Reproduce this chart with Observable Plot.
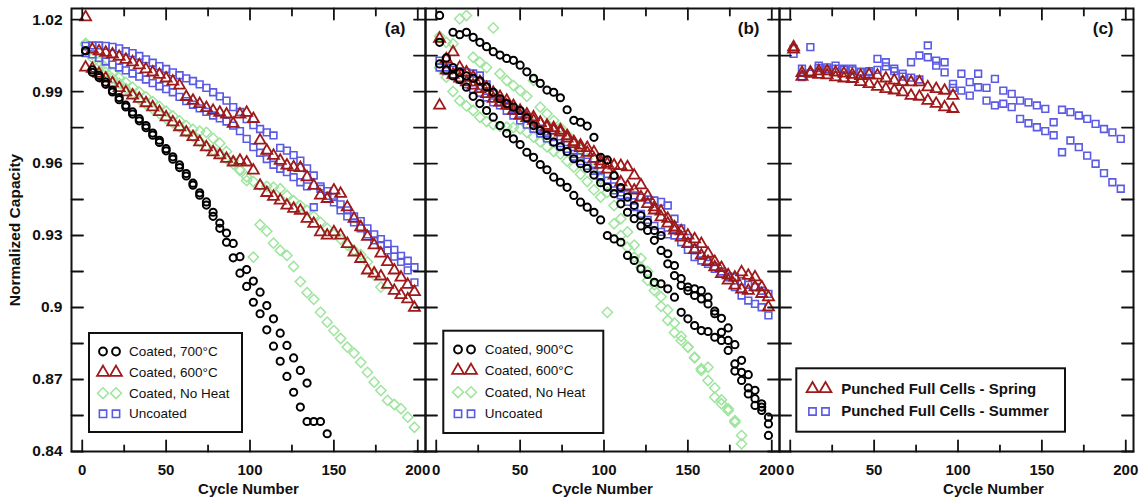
<!DOCTYPE html>
<html>
<head>
<meta charset="utf-8">
<script src="https://cdn.jsdelivr.net/npm/d3@7"></script>
<script src="https://cdn.jsdelivr.net/npm/@observablehq/plot@0.6"></script>
<style>
  html, body { margin: 0; padding: 0; background: #fff; }
  #chart svg { display: block; }
</style>
</head>
<body>
<div id="chart"></div>
<script>
// ---- Cycle numbers -------------------------------------------------------
const cyclesAB = [2, 6, 10, 14, 18, 22, 26, 30, 34, 38, 42, 46, 50, 54, 58, 62, 66, 70, 74, 78,
  82, 86, 90, 94, 98, 102, 106, 110, 114, 118, 122, 126, 130, 134, 138, 142, 146, 150, 154, 158,
  162, 166, 170, 174, 178, 182, 186, 190, 194, 198];
const cyclesC = [2, 7, 12, 17, 22, 27, 32, 37, 42, 47, 52, 57, 62, 67, 72, 77, 82, 87, 92, 97,
  102, 107, 112, 117, 122, 127, 132, 137, 142, 147, 152, 157, 162, 167, 172, 177, 182, 187, 192, 197];

// ---- Panel (a) -------------------------------------------------------------
const a700C_1 = [1.007, 0.999, 0.9967, 0.9939, 0.9905, 0.9875, 0.9843, 0.9815, 0.9787, 0.9758,
  0.9727, 0.9697, 0.9662, 0.9628, 0.9594, 0.9558, 0.9518, 0.9478, 0.944, 0.9397,
  0.9352, 0.931, 0.9267, 0.9212, 0.9158, 0.911, 0.9064, 0.9008, 0.8953, 0.8893,
  0.8842, 0.879, 0.8738, 0.8685];
const a700C_2 = [1.007, 0.998, 0.9958, 0.993, 0.9898, 0.9866, 0.9836, 0.9806, 0.9778, 0.9749,
  0.9718, 0.9688, 0.9653, 0.9618, 0.9583, 0.9548, 0.951, 0.9468, 0.9427, 0.938,
  0.933, 0.9272, 0.9207, 0.9143, 0.9088, 0.9022, 0.8974, 0.8907, 0.8839, 0.8776,
  0.8713, 0.8647, 0.8585, 0.8525, 0.8525, 0.8525, 0.8474];
const a600C_1 = [1.021, 1.0075, 1.0068, 1.0062, 1.0055, 1.0045, 1.0033, 1.0022, 1.001, 0.9993,
  0.998, 0.997, 0.9955, 0.9942, 0.9925, 0.9878, 0.9862, 0.9848, 0.9832, 0.982,
  0.9812, 0.9805, 0.9766, 0.9805, 0.9812, 0.9786, 0.9696, 0.9654, 0.9633, 0.9612,
  0.9592, 0.9585, 0.9582, 0.9543, 0.9508, 0.9467, 0.9453, 0.9488, 0.9474, 0.9418,
  0.937, 0.9335, 0.9295, 0.926, 0.9225, 0.919, 0.9155, 0.9125, 0.9095, 0.9065];
const a600C_2 = [1.0, 0.9995, 0.9974, 0.9955, 0.9935, 0.9915, 0.9897, 0.9884, 0.987, 0.9852,
  0.9835, 0.9815, 0.9793, 0.9772, 0.9752, 0.973, 0.9711, 0.9689, 0.9668, 0.9647,
  0.9635, 0.962, 0.9605, 0.9612, 0.9605, 0.9571, 0.9508, 0.9478, 0.9462, 0.9446,
  0.9425, 0.9412, 0.9404, 0.937, 0.9349, 0.9314, 0.93, 0.9314, 0.93, 0.9265,
  0.923, 0.9203, 0.9155, 0.9142, 0.913, 0.9095, 0.907, 0.9052, 0.9035, 0.8999];
const aNoHeat_1 = [1.0101, 1.004, 1.0005, 0.998, 0.9955, 0.9935, 0.9913, 0.989, 0.9868, 0.9848,
  0.9828, 0.9808, 0.9788, 0.977, 0.9752, 0.9733, 0.9712, 0.9692, 0.9672, 0.9655,
  0.964, 0.962, 0.9598, 0.9575, 0.9545, 0.9525, 0.951, 0.9505, 0.9501, 0.9495,
  0.9467, 0.9445, 0.9425, 0.9405, 0.938, 0.9355, 0.933, 0.9305, 0.9285, 0.926,
  0.9238, 0.922, 0.919, 0.9135, 0.9085];
const aNoHeat_2 = [1.0095, 1.0055, 1.0025, 1.0, 0.9978, 0.9958, 0.9938, 0.9918, 0.9898, 0.9878,
  0.9858, 0.9838, 0.9818, 0.9798, 0.9778, 0.9758, 0.9742, 0.9735, 0.973, 0.9705,
  0.9685, 0.965, 0.9612, 0.9571, 0.9529, 0.921, 0.9345, 0.9318, 0.9268, 0.9238,
  0.9217, 0.9171, 0.9108, 0.9062, 0.9034, 0.898, 0.8939, 0.8904, 0.8871, 0.8835,
  0.881, 0.8772, 0.873, 0.8689, 0.8654, 0.8613, 0.8596, 0.8578, 0.8543, 0.8501];
const aUncoated_1 = [1.009, 1.0092, 1.0092, 1.009, 1.0086, 1.008, 1.0068, 1.006, 1.0048, 1.0034,
  1.002, 1.0006, 0.9994, 0.998, 0.9968, 0.9955, 0.9944, 0.993, 0.9915, 0.9897,
  0.988, 0.9862, 0.9835, 0.9815, 0.9785, 0.976, 0.9744, 0.973, 0.9717, 0.9665,
  0.9654, 0.9635, 0.9612, 0.958, 0.955, 0.9505, 0.9485, 0.946, 0.943, 0.9405,
  0.938, 0.936, 0.933, 0.9305, 0.9285, 0.9265, 0.924, 0.9215, 0.9195, 0.9168];
const aUncoated_2 = [1.006, 1.0055, 1.004, 1.0025, 1.0012, 1.0, 0.9988, 0.9975, 0.9962, 0.995,
  0.9935, 0.9922, 0.991, 0.9897, 0.9878, 0.986, 0.9845, 0.983, 0.9815, 0.98,
  0.9788, 0.9775, 0.9758, 0.9735, 0.9703, 0.9668, 0.9645, 0.9619, 0.9595, 0.9578,
  0.9564, 0.9543, 0.9522, 0.9505, 0.9418, 0.9495, 0.9465, 0.9438, 0.9405, 0.938,
  0.9355, 0.933, 0.9305, 0.928, 0.926, 0.9238, 0.9212, 0.919, 0.9155, 0.9105];

// ---- Panel (b) -------------------------------------------------------------
const b900C_1 = [1.0217, null, 1.0147, 1.0137, 1.0147, 1.0126, 1.0105, 1.0087, 1.0066, 1.0052,
  1.0038, 1.003, 1.001, 0.9982, 0.9955, 0.9934, 0.9906, 0.9897, 0.9874, 0.9824,
  0.978, 0.9772, 0.9756, 0.9709, 0.9626, 0.9615, 0.955, 0.95, 0.946, 0.9425,
  0.9383, 0.9355, 0.9321, 0.93, 0.9224, 0.9175, 0.912, 0.9085, 0.9078, 0.907,
  0.9043, 0.8974, 0.8897, 0.8863, 0.8765, 0.873, 0.8665, 0.8592, 0.8571, 0.8543];
const b900C_2 = [1.0105, 1.004, 1.0, 0.998, 0.9965, 0.9955, 0.9945, 0.992, 0.9897, 0.987,
  0.985, 0.9835, 0.9821, 0.979, 0.9758, 0.9737, 0.9717, 0.9689, 0.967, 0.965,
  0.962, 0.9599, 0.958, 0.9552, 0.952, 0.9501, 0.9474, 0.9432, 0.9397, 0.937,
  0.934, 0.9321, 0.928, 0.9238, 0.9182, 0.9133, 0.9092, 0.907, 0.905, 0.9036,
  0.9015, 0.8985, 0.8955, 0.8915, 0.8845, 0.878, 0.872, 0.8655, 0.8585, 0.8467];
const b900C_3 = [1.0015, 0.999, 0.9965, 0.995, 0.9918, 0.988, 0.985, 0.9821, 0.9793, 0.9758,
  0.9726, 0.9703, 0.9679, 0.9647, 0.9626, 0.9596, 0.9574, 0.9543, 0.9522, 0.9501,
  0.9467, 0.9439, 0.9418, 0.9397, 0.9365, 0.93, 0.9286, 0.9272, 0.9217, 0.9196,
  0.9161, 0.9138, 0.9105, 0.9099, 0.9078, 0.9043, 0.898, 0.8953, 0.8925, 0.8904,
  0.89, 0.8876, 0.8863, 0.8821, 0.8735, 0.8696, 0.864, 0.862, 0.8599, 0.8515];
const b600C_1 = [1.012, 1.0035, 1.0064, 1.0, 0.998, 0.996, 0.994, 0.9915, 0.9895, 0.9878,
  0.9862, 0.984, 0.982, 0.9805, 0.9793, 0.977, 0.975, 0.9738, 0.973, 0.9705,
  0.9682, 0.9675, 0.9665, 0.9647, 0.961, 0.9599, 0.9592, 0.959, 0.9585, 0.955,
  0.951, 0.9465, 0.9418, 0.94, 0.937, 0.9335, 0.9318, 0.93, 0.9285, 0.9265,
  0.9225, 0.919, 0.9165, 0.9135, 0.9125, 0.9147, 0.9133, 0.9126, 0.9085, 0.9043];
const b600C_2 = [0.9842, 0.9988, 0.997, 0.9955, 0.9939, 0.9925, 0.9911, 0.989, 0.987, 0.9855,
  0.9842, 0.982, 0.98, 0.979, 0.9779, 0.9768, 0.9758, 0.9748, 0.9738, 0.9715,
  0.969, 0.9665, 0.9645, 0.962, 0.9595, 0.9575, 0.955, 0.9522, 0.9505, 0.9488,
  0.946, 0.9432, 0.9405, 0.9376, 0.935, 0.9321, 0.9292, 0.9265, 0.924, 0.9217,
  0.919, 0.9168, 0.914, 0.9113, 0.9092, 0.9075, 0.907, 0.9085, 0.9057, 0.9001];
const bNoHeat_1 = [1.013, 1.0105, 1.0099, 1.0203, 1.0217, 1.0043, 1.0022, 1.0, 1.0165, 0.9974,
  0.9946, 0.9925, 0.9904, 0.988, 0.9946, 0.9835, 0.9807, 0.9779, 0.975, 0.972,
  0.969, 0.966, 0.962, 0.958, 0.9535, 0.948, 0.9425, 0.937, 0.9315, 0.926,
  0.9205, 0.915, 0.9095, 0.9045, 0.899, 0.8935, 0.888, 0.8835, 0.879, 0.8745,
  0.8751, 0.8665, 0.8615, 0.857, 0.8522, 0.8467];
const bNoHeat_2 = [1.0, 0.996, 0.99, 0.9862, 0.984, 0.9821, 0.9793, 0.9775, 0.9762, 0.9755,
  0.9752, 0.975, 0.9745, 0.973, 0.971, 0.969, 0.967, 0.965, 0.964, 0.961,
  0.9585, 0.9555, 0.9525, 0.949, 0.946, 0.898, 0.9349, 0.93, 0.9251, 0.921,
  0.9168, 0.9113, 0.9071, 0.9005, 0.8947, 0.8896, 0.8863, 0.8835, 0.8793, 0.8738,
  0.8696, 0.8626, 0.8599, 0.8578, 0.8529, 0.8432];
const bUncoated_1 = [1.0029, 1.0, 0.999, 0.9985, 0.998, 0.9975, 0.9967, 0.993, 0.989, 0.9855,
  0.984, 0.982, 0.98, 0.9786, 0.9765, 0.9745, 0.9725, 0.971, 0.9685, 0.9661,
  0.964, 0.9626, 0.9608, 0.9592, 0.9543, 0.9529, 0.9505, 0.948, 0.9472, 0.9467,
  0.9458, 0.945, 0.9446, 0.944, 0.9425, 0.937, 0.933, 0.929, 0.9245, 0.9215,
  0.9195, 0.917, 0.915, 0.913, 0.9126, 0.911, 0.9095, 0.9085, 0.907, 0.9057];
const bUncoated_2 = [1.0, 0.9985, 0.997, 0.995, 0.993, 0.991, 0.9895, 0.9875, 0.9855, 0.9842,
  0.982, 0.98, 0.978, 0.9762, 0.9745, 0.9725, 0.9705, 0.969, 0.9672, 0.965,
  0.9628, 0.961, 0.959, 0.957, 0.955, 0.9505, 0.9488, 0.9467, 0.944, 0.9418,
  0.939, 0.9365, 0.934, 0.9315, 0.9305, 0.93, 0.9272, 0.924, 0.921, 0.9196,
  0.9182, 0.9161, 0.914, 0.9126, 0.9085, 0.905, 0.9029, 0.9015, 0.9001, 0.8967];

// ---- Panel (c) -------------------------------------------------------------
const cSpring_1 = [1.0085, 0.9978, 0.998, 0.9985, 0.9985, 0.998, 0.9975, 0.997, 0.9965, 0.997,
  0.9967, 0.9955, 0.9946, 0.994, 0.9939, 0.9939, 0.9918, 0.9911, 0.9904, 0.9883];
const cSpring_2 = [1.0075, 0.9962, 0.9975, 0.997, 0.9968, 0.996, 0.9955, 0.9953, 0.994, 0.9932,
  0.992, 0.9911, 0.9905, 0.9897, 0.9883, 0.9879, 0.9862, 0.9849, 0.9835, 0.9828];
const cSummer_1 = [1.0078, 0.9995, 1.0085, 1.0008, 1.0001, 1.0008, 0.9995, 0.9995, 0.9983, 0.9985,
  1.0036, 1.0022, 0.9995, 0.9974, 1.0022, 1.005, 1.0092, 1.0029, 1.0022, 0.9932,
  0.9974, 0.9939, 0.9974, 0.9915, 0.9953, 0.9904, 0.989, 0.9862, 0.9855, 0.9842,
  0.9828, 0.9772, 0.9824, 0.9814, 0.98, 0.9786, 0.9765, 0.9744, 0.973, 0.9703];
const cSummer_2 = [1.0057, 0.996, 0.9975, 0.9998, 0.9992, 0.9995, 0.999, 0.9988, 0.998, 0.998,
  0.999, 1.0005, 0.9985, 0.9962, 0.9958, 0.995, 1.0043, 1.0008, 0.998, 0.9915,
  0.9904, 0.9883, 0.9918, 0.9862, 0.9842, 0.9849, 0.9835, 0.9786, 0.9768, 0.9751,
  0.9735, 0.9718, 0.9647, 0.9696, 0.9668, 0.9633, 0.9599, 0.956, 0.9522, 0.9495];

// ---- Axis ticks and labels -------------------------------------------------
const xMajorTicks = [0, 50, 100, 150, 200];
const xMinorTicks = [25, 75, 125, 175];
const yTicks = [0.84, 0.855, 0.87, 0.885, 0.9, 0.915, 0.93, 0.945, 0.96, 0.975, 0.99, 1.005, 1.02];
const yLabelTicks = [0.84, 0.87, 0.9, 0.93, 0.96, 0.99, 1.02];
const yLabelText = ["0.84", "0.87", "0.9", "0.93", "0.96", "0.99", "1.02"];
const panelIds = ["a", "b", "c"];
const panelTitles = ["(a)", "(b)", "(c)"];
const xTitle = "Cycle Number";
const yTitle = "Normalized Capacity";

// ---- Legend entries ----------------------------------------------------------
const legendA = ["Coated, 700°C", "Coated, 600°C", "Coated, No Heat", "Uncoated"];
const legendB = ["Coated, 900°C", "Coated, 600°C", "Coated, No Heat", "Uncoated"];
const legendC = ["Punched Full Cells - Spring", "Punched Full Cells - Summer"];

// ---- Layout & styles -------------------------------------------------------
const WIDTH = 1144, HEIGHT = 500;
const MARGIN = {top: 8, right: 11, bottom: 49, left: 71};
const X_DOMAIN = [-6.4, 204.6];
const Y_DOMAIN = [0.84, 1.0246];
const FACET_W = (WIDTH - MARGIN.left - MARGIN.right) / 3;
const PLOT_H = HEIGHT - MARGIN.top - MARGIN.bottom;
// pixel offsets inside a panel -> data coordinates (used to place legends)
const xAt = px => X_DOMAIN[0] + (px / FACET_W) * (X_DOMAIN[1] - X_DOMAIN[0]);
const yAt = py => Y_DOMAIN[1] - (py / PLOT_H) * (Y_DOMAIN[1] - Y_DOMAIN[0]);

const FONT = "'Liberation Sans', Arial, Helvetica, sans-serif";
const INK = "#111";
const markerStyle = {
  black: {symbol: "circle",   stroke: "#000000", r: 3.6, strokeWidth: 2},
  red:   {symbol: "triangle", stroke: "#9e1a1a", r: 4.1, strokeWidth: 1.8},
  green: {symbol: "diamond2", stroke: "#9ee59e", r: 4.6, strokeWidth: 1.5},
  blue:  {symbol: "square",   stroke: "#5a5ae4", r: 3.8, strokeWidth: 1.6}
};
const drawOrder = ["green", "blue", "red", "black"];

const seriesList = [
  {panel: "a", kind: "black", cycles: cyclesAB, traces: [a700C_1, a700C_2]},
  {panel: "a", kind: "red",   cycles: cyclesAB, traces: [a600C_1, a600C_2]},
  {panel: "a", kind: "green", cycles: cyclesAB, traces: [aNoHeat_1, aNoHeat_2]},
  {panel: "a", kind: "blue",  cycles: cyclesAB, traces: [aUncoated_1, aUncoated_2]},
  {panel: "b", kind: "black", cycles: cyclesAB, traces: [b900C_1, b900C_2, b900C_3]},
  {panel: "b", kind: "red",   cycles: cyclesAB, traces: [b600C_1, b600C_2]},
  {panel: "b", kind: "green", cycles: cyclesAB, traces: [bNoHeat_1, bNoHeat_2]},
  {panel: "b", kind: "blue",  cycles: cyclesAB, traces: [bUncoated_1, bUncoated_2]},
  {panel: "c", kind: "red",   cycles: cyclesC,  traces: [cSpring_1, cSpring_2]},
  {panel: "c", kind: "blue",  cycles: cyclesC,  traces: [cSummer_1, cSummer_2]}
];

const points = seriesList.flatMap(s =>
  s.traces.flatMap(values => values.map((v, i) => ({panel: s.panel, kind: s.kind, cycle: s.cycles[i], capacity: v})))
).filter(d => d.capacity != null);

// legend boxes: [left, right, top, bottom] and rows, in pixels inside each panel
const legendLayout = [
  {panel: "a", labels: legendA, kinds: ["black", "red", "green", "blue"], box: [18, 171, 325, 424],
   rows: [343, 364, 384.7, 405.3], sym: [31.5, 44.5], textX: 57.5, fontSize: 13.5, fontWeight: "normal"},
  {panel: "b", labels: legendB, kinds: ["black", "red", "green", "blue"], box: [18.3, 178.3, 322.7, 425],
   rows: [341, 362, 383.7, 405.3], sym: [32.5, 45.5], textX: 59.3, fontSize: 13.5, fontWeight: "normal"},
  {panel: "c", labels: legendC, kinds: ["red", "blue"], box: [17.3, 286, 360.3, 423.7],
   rows: [380.3, 403], sym: [33, 46], textX: 61.7, fontSize: 15, fontWeight: "bold"}
];
const legendBoxes = legendLayout.map(L => ({panel: L.panel,
  x1: xAt(L.box[0]), x2: xAt(L.box[1]), y1: yAt(L.box[3]), y2: yAt(L.box[2])}));
const legendSymbols = legendLayout.flatMap(L => L.labels.flatMap((label, i) =>
  L.sym.map(sx => ({panel: L.panel, kind: L.kinds[i], x: xAt(sx), y: yAt(L.rows[i])}))));
const legendTexts = legendLayout.map(L => L.labels.map((label, i) =>
  ({panel: L.panel, label, x: xAt(L.textX), y: yAt(L.rows[i]), fontSize: L.fontSize, fontWeight: L.fontWeight})));

// inward tick marks on all four sides of every panel
const tickShape = {draw(context, l) { context.moveTo(0, 0); context.lineTo(0, -l); }};
const tickMarks = (values, channel, frameAnchor, rotate, length) => Plot.vector(values, {
  [channel]: d => d, frameAnchor, rotate, length, anchor: "start", shape: tickShape,
  stroke: INK, strokeWidth: 1.8
});

const marks = [
  Plot.frame({stroke: INK, strokeWidth: 2}),
  ...drawOrder.map(kind => {
    const s = markerStyle[kind];
    return Plot.dot(points.filter(d => d.kind === kind), {
      fx: "panel", x: "cycle", y: "capacity",
      symbol: s.symbol, r: s.r, stroke: s.stroke, strokeWidth: s.strokeWidth, fill: "none"
    });
  }),
  tickMarks(xMajorTicks, "x", "bottom", 0, 11),
  tickMarks(xMinorTicks, "x", "bottom", 0, 6),
  tickMarks(xMajorTicks, "x", "top", 180, 11),
  tickMarks(xMinorTicks, "x", "top", 180, 7),
  tickMarks(yTicks, "y", "left", 90, 11.5),
  tickMarks(yTicks, "y", "right", -90, 11.5),
  Plot.axisX(xMajorTicks, {anchor: "bottom", tickSize: 0, tickPadding: 13, label: null,
    fontSize: 15, fontWeight: "bold", fill: INK}),
  Plot.axisY(yLabelTicks, {anchor: "left", tickSize: 0, tickPadding: 9, label: null,
    tickFormat: d => yLabelText[yLabelTicks.indexOf(d)], fontSize: 15.5, fontWeight: "bold", fill: INK}),
  Plot.text(panelIds.filter(p => p !== "c"), {fx: d => d, text: () => xTitle, frameAnchor: "bottom",
    dy: 38, lineAnchor: "middle", textAnchor: "middle", fontSize: 15, fontWeight: "bold", fill: INK}),
  Plot.text(["c"], {fx: d => d, text: () => xTitle, frameAnchor: "bottom", dx: 37,
    dy: 38, lineAnchor: "middle", textAnchor: "middle", fontSize: 15, fontWeight: "bold", fill: INK}),
  Plot.text(["a"], {fx: d => d, text: () => yTitle, frameAnchor: "left", dx: -56, rotate: -90,
    textAnchor: "middle", lineAnchor: "middle", fontSize: 15.5, fontWeight: "bold", fill: INK}),
  Plot.text(panelIds, {fx: d => d, text: (d, i) => panelTitles[i], frameAnchor: "top-right",
    dx: -20, dy: 20, textAnchor: "end", lineAnchor: "middle", fontSize: 17, fontWeight: "bold", fill: INK}),
  Plot.rect(legendBoxes, {fx: "panel", x1: "x1", x2: "x2", y1: "y1", y2: "y2",
    fill: "white", stroke: INK, strokeWidth: 2}),
  ...["black", "red", "green", "blue"].map(kind => {
    const s = markerStyle[kind];
    return Plot.dot(legendSymbols.filter(d => d.kind === kind), {
      fx: "panel", x: "x", y: "y",
      symbol: s.symbol, r: s.r + 0.3, stroke: s.stroke, strokeWidth: s.strokeWidth, fill: "none"
    });
  }),
  ...legendTexts.map(rows => Plot.text(rows, {fx: "panel", x: "x", y: "y", text: "label",
    textAnchor: "start", lineAnchor: "middle", fontSize: rows[0].fontSize, fontWeight: rows[0].fontWeight, fill: INK}))
];

const chart = Plot.plot({
  width: WIDTH,
  height: HEIGHT,
  marginTop: MARGIN.top,
  marginRight: MARGIN.right,
  marginBottom: MARGIN.bottom,
  marginLeft: MARGIN.left,
  style: {fontFamily: FONT, fontSize: "15px", color: INK, background: "white", overflow: "visible"},
  fx: {domain: panelIds, padding: 0, axis: null},
  x: {domain: X_DOMAIN},
  y: {domain: Y_DOMAIN},
  marks
});
document.getElementById("chart").append(chart);
</script>
</body>
</html>
